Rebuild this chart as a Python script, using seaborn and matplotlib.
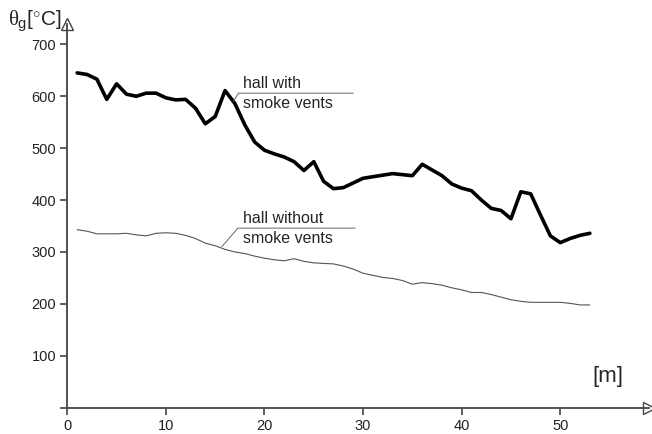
import numpy as np
import pandas as pd
import matplotlib
matplotlib.use("Agg")
import matplotlib.pyplot as plt
import seaborn as sns

# distance along hall [m]
distance = list(range(1, 54))
# gas temperature, hall with smoke vents
with_vents = [645, 642, 633, 594, 624, 604, 600, 606, 606, 597,
              593, 594, 577, 547, 561, 611, 586, 545, 512, 496,
              489, 483, 474, 457, 474, 436, 422, 424, 433, 442,
              445, 448, 451, 449, 447, 469, 458, 447, 431, 423,
              418, 400, 384, 380, 364, 416, 412, 371, 331, 318,
              326, 332, 336]
# gas temperature, hall without smoke vents
without_vents = [343, 340, 335, 335, 335, 336, 333, 331, 336, 337,
                 336, 332, 326, 317, 312, 305, 300, 297, 292, 288,
                 285, 283, 287, 282, 279, 278, 277, 273, 267, 259,
                 255, 251, 249, 245, 238, 241, 239, 236, 231, 227,
                 222, 222, 218, 213, 208, 205, 203, 203, 203, 203,
                 201, 198, 198]
x_ticks = [0, 10, 20, 30, 40, 50]
y_ticks = [0, 100, 200, 300, 400, 500, 600, 700]
y_ticklabels = ["", "100", "200", "300", "400", "500", "600", "700"]

sns.set_style("white")
plt.rcParams["font.family"] = ["Liberation Sans", "DejaVu Sans"]
plt.rcParams["mathtext.fontset"] = "custom"
plt.rcParams["mathtext.rm"] = "Liberation Sans"
plt.rcParams["mathtext.it"] = "Liberation Serif"

fig = plt.figure(figsize=(6.52, 4.34), dpi=100)
ax = fig.add_axes([67.3 / 652, 26.3 / 434, (649 - 67.3) / 652, (407.7 - 23.6) / 434])

df1 = pd.DataFrame({"x": distance, "y": with_vents})
df2 = pd.DataFrame({"x": distance, "y": without_vents})
sns.lineplot(data=df2, x="x", y="y", ax=ax, color="#555555", linewidth=0.8)
sns.lineplot(data=df1, x="x", y="y", ax=ax, color="black", linewidth=2.6)

ax.set_xlim(0, 59)
ax.set_ylim(0, 740)
ax.set_xticks(x_ticks)
ax.set_yticks(y_ticks)
ax.set_yticklabels(y_ticklabels)
ax.set_xlabel("")
ax.set_ylabel("")
for s in ["top", "right"]:
    ax.spines[s].set_visible(False)
for s in ["left", "bottom"]:
    ax.spines[s].set_color("#444444")
    ax.spines[s].set_linewidth(1.3)
ax.tick_params(axis="both", direction="out", length=5, width=1.2, color="#444444",
               labelsize=10.5, labelcolor="#222222", pad=3)
ax.tick_params(axis="x", bottom=True)
ax.tick_params(axis="y", left=True)

# axis arrow heads
ax.plot([1.0], [0], marker=">", markersize=8, mfc="white", mec="#444444", mew=1.0,
        transform=ax.transAxes, clip_on=False)
ax.plot([0], [1.0], marker="^", markersize=8, mfc="white", mec="#444444", mew=1.0,
        transform=ax.transAxes, clip_on=False)

# annotations
ax.plot([16.84, 17.35, 29.0], [590, 606, 606], color="#666666", linewidth=0.7)
ax.text(17.8, 611, "hall with", fontsize=11.5, ha="left", va="bottom")
ax.text(17.8, 601, "smoke vents", fontsize=11.5, ha="left", va="top")

ax.plot([15.67, 17.3, 29.2], [310, 346, 346], color="#666666", linewidth=0.7)
ax.text(17.8, 351, "hall without", fontsize=11.5, ha="left", va="bottom")
ax.text(17.8, 341, "smoke vents", fontsize=11.5, ha="left", va="top")

ax.text(54.8, 60, "[m]", fontsize=16, ha="center", va="center")

fig.text(8 / 652, 1 - 26 / 434, r"$\theta_{\mathrm{g}}$[$^{\circ}$C]", fontsize=15,
         ha="left", va="baseline")

fig.savefig("out.png", dpi=100)
